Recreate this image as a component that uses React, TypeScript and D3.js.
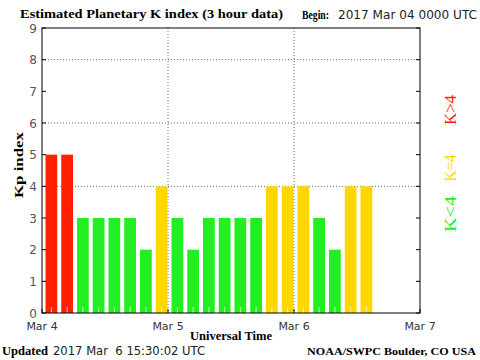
import React from 'react';
import * as d3 from 'd3';

// Kp values, one per 3 hour bin starting 2017 Mar 04 0000 UTC
const kpValues = [5, 5, 3, 3, 3, 3, 2, 4, 3, 2, 3, 3, 3, 3, 4, 4, 4, 3, 2, 4, 4];
const dayLabels = ['Mar 4', 'Mar 5', 'Mar 6', 'Mar 7'];
const yTicks = [0, 1, 2, 3, 4, 5, 6, 7, 8, 9];
const gridLevels = [4, 6, 8];
const legendLabels = ['K<4', 'K=4', 'K>4'];
const legendColors = ['#22ee22', '#ffd700', '#ff2000'];

const serif = '"Liberation Serif", "Times New Roman", serif';
const sans = '"DejaVu Sans", sans-serif';

function barColor(k: number) {
  if (k < 4) return legendColors[0];
  if (k === 4) return legendColors[1];
  return legendColors[2];
}

export default function App() {
  const left = 42, right = 420, top = 28, bottom = 313;
  const bins = 24;

  const x = d3.scaleLinear().domain([0, bins]).range([left, right]);
  const y = d3.scaleLinear().domain([0, 9]).range([bottom, top]);
  const binW = x(1) - x(0);

  // legend placement (center y, text length)
  const legendY = [214, 168, 110];
  const legendLen = [36, 27, 30];

  return (
    <svg width={480} height={360} style={{ position: 'absolute', left: 0, top: 0, background: '#fff' }}>
      <rect x={0} y={0} width={480} height={360} fill="#fff" />
      {/* grid */}
      {gridLevels.map(g => (
        <line key={'h' + g} x1={left} x2={right} y1={y(g)} y2={y(g)} stroke="#666" strokeDasharray="1,2" />
      ))}
      {[8, 16].map(b => (
        <line key={'v' + b} x1={x(b)} x2={x(b)} y1={top} y2={bottom} stroke="#666" strokeDasharray="1,2" />
      ))}
      {/* bars */}
      {kpValues.map((k, i) => (
        <rect key={i} x={x(i) + 3.5} y={y(k)} width={binW - 4} height={bottom - y(k)} fill={barColor(k)} />
      ))}
      {kpValues.map((k, i) => (
        <line key={'t' + i} x1={x(i) + binW / 2 + 1.5} x2={x(i) + binW / 2 + 1.5} y1={bottom} y2={bottom - 6} stroke="#fff" strokeOpacity={0.7} />
      ))}
      {/* frame */}
      <rect x={left} y={top} width={right - left} height={bottom - top} fill="none" stroke="#000" strokeWidth={1} />
      {yTicks.map(t => (
        <g key={'y' + t}>
          <line x1={left} x2={left + 4} y1={y(t)} y2={y(t)} stroke="#000" />
          <line x1={right - 4} x2={right} y1={y(t)} y2={y(t)} stroke="#000" />
          <text x={left - 5} y={y(t) + 4.5} textAnchor="end" fontFamily={sans} fontSize={12} fill="#555">{t}</text>
        </g>
      ))}
      {dayLabels.map((d, i) => (
        <g key={d}>
          <line x1={x(i * 8)} x2={x(i * 8)} y1={bottom} y2={bottom - 4} stroke="#000" />
          <text x={x(i * 8)} y={330} textAnchor="middle" fontFamily={sans} fontSize={11} fill="#333">{d}</text>
        </g>
      ))}
      {/* titles */}
      <text x={20} y={18} fontFamily={serif} fontWeight="bold" fontSize={13} textLength={263} lengthAdjust="spacingAndGlyphs">Estimated Planetary K index (3 hour data)</text>
      <text x={302} y={19} fontFamily={serif} fontWeight="bold" fontSize={12} textLength={27} lengthAdjust="spacingAndGlyphs">Begin:</text>
      <text x={338} y={19} fontFamily={sans} fontSize={11.5} fill="#222" textLength={139} lengthAdjust="spacingAndGlyphs">2017 Mar 04 0000 UTC</text>
      <text x={190} y={340} fontFamily={serif} fontWeight="bold" fontSize={13} textLength={82} lengthAdjust="spacingAndGlyphs">Universal Time</text>
      <text transform="translate(23,198) rotate(-90)" fontFamily={serif} fontWeight="bold" fontSize={13} textLength={66} lengthAdjust="spacingAndGlyphs">Kp index</text>
      <text x={2} y={355} fontFamily={serif} fontWeight="bold" fontSize={12.5} textLength={46} lengthAdjust="spacingAndGlyphs">Updated</text>
      <text x={53} y={355} fontFamily={sans} fontSize={11.5} fill="#222" textLength={152} lengthAdjust="spacingAndGlyphs" style={{ whiteSpace: 'pre' }}>2017 Mar  6 15:30:02 UTC</text>
      <text x={307} y={355} fontFamily={serif} fontWeight="bold" fontSize={11.2} textLength={169} lengthAdjust="spacingAndGlyphs">NOAA/SWPC Boulder, CO USA</text>
      {/* legend */}
      {legendLabels.map((l, i) => (
        <text key={l} transform={`translate(456,${legendY[i] + legendLen[i] / 2}) rotate(-90)`}
          fontFamily={serif} fontSize={17} fill={legendColors[i]}
          textLength={legendLen[i]} lengthAdjust="spacingAndGlyphs">{l}</text>
      ))}
    </svg>
  );
}
